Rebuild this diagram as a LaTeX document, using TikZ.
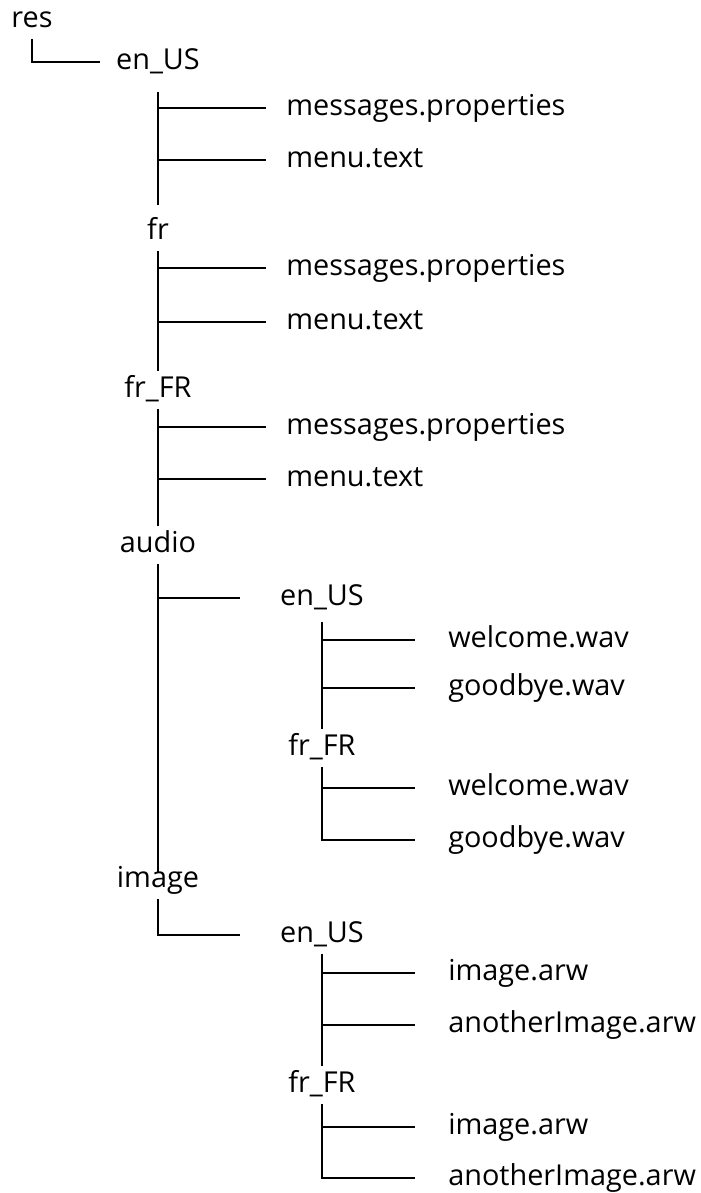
\documentclass[tikz,border=0pt]{standalone}
\usepackage{fontspec}
\setmainfont{Open Sans}
\usetikzlibrary{positioning,calc}

\begin{document}
\begin{tikzpicture}[
    x=0.025cm, y=-0.025cm,
    folder/.style={inner sep=0pt, minimum height=0.95cm, text height=12pt, text depth=1.1pt, font=\fontsize{20.5}{24}\selectfont},
    file/.style={anchor=west, inner sep=0pt, text height=12pt, text depth=1.1pt, font=\fontsize{20.5}{24}\selectfont},
    link/.style={line width=1.3pt},
    branch/.style={link, shorten >=0.5cm},
    subbranch/.style={link, shorten >=0.825cm}
]
\useasboundingbox (0,0) rectangle (700,1193);

% Root
\node[folder] (res) at (32,20) {res};

% Locales
\node[folder] (enUS) at (158,62) {en\_US};
\node[file] (msgA) at (286,108) {messages.properties};
\node[file] (menuA) at (286,160) {menu.text};

\node[folder] (fr) at (158,232) {fr};
\node[file] (msgB) at (286,268) {messages.properties};
\node[file] (menuB) at (286,322) {menu.text};

\node[folder] (frFR) at (158,390) {fr\_FR};
\node[file] (msgC) at (286,427) {messages.properties};
\node[file] (menuC) at (286,479) {menu.text};

% Audio
\node[folder] (audio) at (158,545) {audio};
\node[folder] (audioUS) at (322,598) {en\_US};
\node[file] (welcomeA) at (448,640) {welcome.wav};
\node[file] (byeA) at (448,688) {goodbye.wav};
\node[folder] (audioFR) at (322,748) {fr\_FR};
\node[file] (welcomeB) at (448,788) {welcome.wav};
\node[file] (byeB) at (448,840) {goodbye.wav};

% Image
\node[folder] (image) at (158,880) {image};
\node[folder] (imageUS) at (322,935) {en\_US};
\node[file] (arwA) at (448,973) {image.arw};
\node[file] (otherA) at (448,1025) {anotherImage.arw};
\node[folder] (imageFR) at (322,1085) {fr\_FR};
\node[file] (arwB) at (448,1127) {image.arw};
\node[file] (otherB) at (448,1178) {anotherImage.arw};

% Lines
\draw[link, shorten >=0.4cm] (res.south) |- (enUS.west);

\draw[link, shorten <=0.28cm, shorten >=0.2cm] (enUS.south) -- (fr.north);
\draw[branch] (enUS |- msgA) -- (msgA);
\draw[branch] (enUS |- menuA) -- (menuA);

\draw[link] (fr.south) -- (frFR.north);
\draw[branch] (fr |- msgB) -- (msgB);
\draw[branch] (fr |- menuB) -- (menuB);

\draw[link] (frFR.south) -- (audio.north);
\draw[branch] (frFR |- msgC) -- (msgC);
\draw[branch] (frFR |- menuC) -- (menuC);

\draw[link, shorten >=-0.28cm] (audio.south) -- (image.north);
\draw[link, shorten >=1cm] (audio |- audioUS) -- (audioUS);

\draw[link, shorten <=0.12cm] (audioUS.south) -- (audioFR.north);
\draw[subbranch] (audioUS |- welcomeA) -- (welcomeA);
\draw[subbranch] (audioUS |- byeA) -- (byeA);
\draw[subbranch] (audioFR |- welcomeB) -- (welcomeB);
\draw[subbranch] (audioFR.south) |- (byeB);

\draw[link, shorten >=1cm] (image.south) |- (imageUS);

\draw[link] (imageUS.south) -- (imageFR.north);
\draw[subbranch] (imageUS |- arwA) -- (arwA);
\draw[subbranch] (imageUS |- otherA) -- (otherA);
\draw[subbranch] (imageFR |- arwB) -- (arwB);
\draw[subbranch] (imageFR.south) |- (otherB);

\end{tikzpicture}
\end{document}
